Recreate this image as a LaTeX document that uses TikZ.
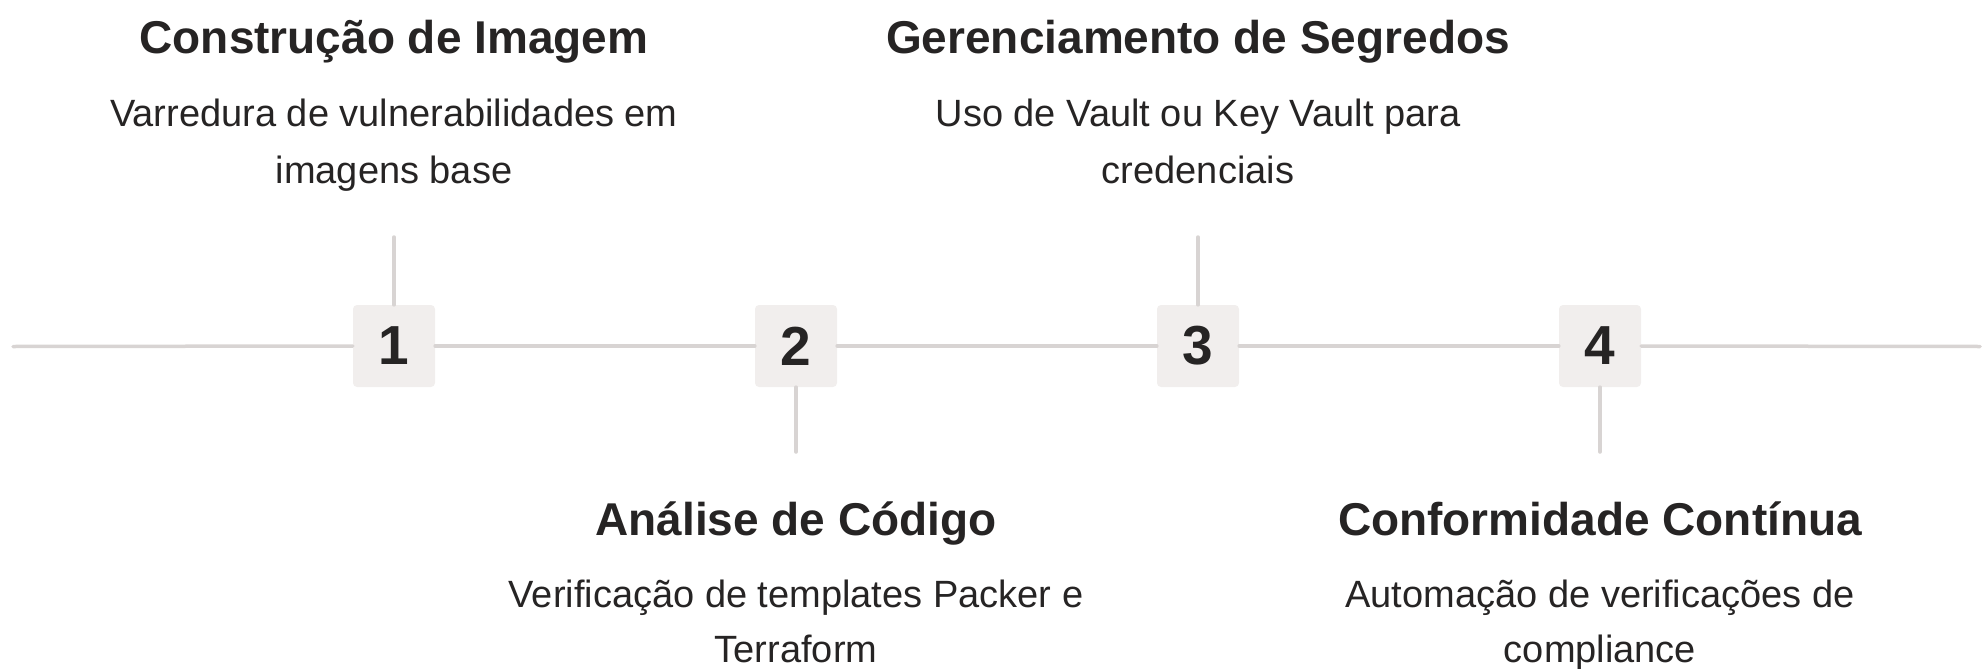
\documentclass[tikz,border=0pt]{standalone}
\usepackage{fontspec}
\setmainfont{Liberation Sans}
\definecolor{ink}{HTML}{262424}
\definecolor{linegray}{HTML}{D8D4D3}
\definecolor{boxfill}{HTML}{F1EEED}
\begin{document}
\begin{tikzpicture}[x=1pt,y=-1pt,
  title/.style={font=\fontsize{46}{46}\selectfont\bfseries, text=ink, anchor=base, inner sep=0pt},
  desc/.style={font=\fontsize{38}{38}\selectfont, text=ink, anchor=base, inner sep=0pt},
  numbox/.style={fill=boxfill, rounded corners=4pt, minimum width=82pt, minimum height=82pt, inner sep=0pt, font=\fontsize{55}{55}\selectfont\bfseries, text=ink},
  rule/.style={draw=linegray, line width=3.5pt, line cap=round}]
\useasboundingbox (0,0) rectangle (1983,669);
% timeline boxes
\node[numbox] (b1) at (394,346) {1};
\node[numbox] (b2) at (796,346) {2};
\node[numbox] (b3) at (1198,346) {3};
\node[numbox] (b4) at (1600,346) {4};
\coordinate (L) at (13,346.5);
\coordinate (R) at (1980,346.5);
\coordinate (c1) at (394,237);
\coordinate (c2) at (796,452);
\coordinate (c3) at (1198,237);
\coordinate (c4) at (1600,452);
% connectors
\draw[rule] (L) -- (b1.west);
\draw[rule] (b1.east) -- (b2.west);
\draw[rule] (b2.east) -- (b3.west);
\draw[rule] (b3.east) -- (b4.west);
\draw[rule] (b4.east) -- (R);
\draw[rule] (b1.north) -- (c1);
\draw[rule] (b2.south) -- (c2);
\draw[rule] (b3.north) -- (c3);
\draw[rule] (b4.south) -- (c4);
% texts
\node[title] (t1) at (394,53) {Construção de Imagem};
\node[desc] (d1a) at (394,126) {Varredura de vulnerabilidades em};
\node[desc] (d1b) at (394,183) {imagens base};
\node[title] (t3) at (1198,53) {Gerenciamento de Segredos};
\node[desc] (d3a) at (1198,126) {Uso de Vault ou Key Vault para};
\node[desc] (d3b) at (1198,183) {credenciais};
\node[title] (t2) at (796,535) {Análise de Código};
\node[desc] (d2a) at (796,607) {Verificação de templates Packer e};
\node[desc] (d2b) at (796,662) {Terraform};
\node[title] (t4) at (1600,535) {Conformidade Contínua};
\node[desc] (d4a) at (1600,607) {Automação de verificações de};
\node[desc] (d4b) at (1600,662) {compliance};
\end{tikzpicture}
\end{document}
